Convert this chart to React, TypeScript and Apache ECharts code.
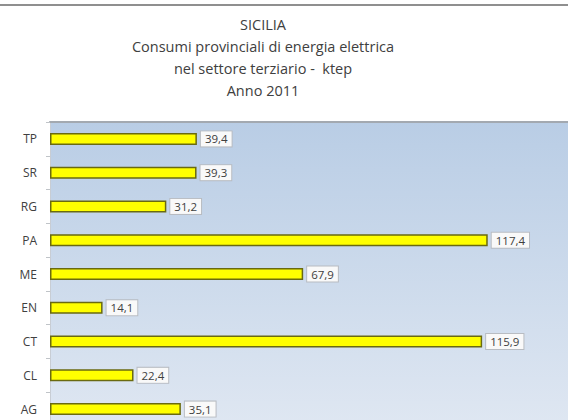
import React, { useEffect, useRef } from "react";
import * as echarts from "echarts";

const categories = ["AG", "CL", "CT", "EN", "ME", "PA", "RG", "SR", "TP"];
const values = [35.1, 22.4, 115.9, 14.1, 67.9, 117.4, 31.2, 39.3, 39.4];
const titleLines = [
  "SICILIA",
  "Consumi provinciali di energia elettrica",
  "nel settore terziario -  ktep",
  "Anno 2011",
];

const FONT = "Open Sans";

export default function App() {
  const ref = useRef<HTMLDivElement>(null);
  useEffect(() => {
    document.body.style.margin = "0";
    document.body.style.overflow = "hidden";
    const chart = echarts.init(ref.current!, null, { renderer: "svg" });
    chart.setOption({
      animation: false,
      backgroundColor: "#ffffff",
      graphic: [
        {
          type: "rect",
          shape: { x: 0, y: 4, width: 572, height: 2 },
          style: { fill: "#8f8f8f" },
          silent: true,
        },
        {
          type: "text",
          x: 263,
          y: 13,
          style: {
            text: titleLines.join("\n"),
            fontFamily: FONT,
            fontSize: 14.5,
            lineHeight: 22.2,
            fill: "#404040",
            align: "center",
            verticalAlign: "top",
          },
          silent: true,
        },
      ],
      grid: {
        left: 50,
        right: 0,
        top: 122,
        bottom: 0,
        show: true,
        borderWidth: 0,
        backgroundColor: new echarts.graphic.LinearGradient(0, 0, 0, 1, [
          { offset: 0, color: "#b9cde5" },
          { offset: 1, color: "#dfe7f2" },
        ]),
      },
      xAxis: {
        type: "value",
        min: 0,
        max: 140,
        position: "top",
        axisLine: { show: true, lineStyle: { color: "#a3a9b0", width: 2 } },
        axisTick: { show: false },
        axisLabel: { show: false },
        splitLine: { show: false },
      },
      yAxis: {
        type: "category",
        data: categories,
        axisLine: { show: true, lineStyle: { color: "#c8cdd4", width: 1 } },
        axisTick: { show: true, length: 4, lineStyle: { color: "#c0c4c8" } },
        axisLabel: {
          fontFamily: FONT,
          fontSize: 12,
          color: "#404040",
          margin: 13,
        },
      },
      series: [
        {
          type: "bar",
          data: values,
          barWidth: 12,
          itemStyle: {
            color: "#ffff00",
            borderColor: "#6a6a10",
            borderWidth: 1.5,
          },
          label: {
            show: true,
            position: "right",
            distance: 4,
            fontFamily: FONT,
            fontSize: 11.5,
            color: "#404040",
            backgroundColor: "#f9f9f9",
            borderColor: "#b8bcc2",
            borderWidth: 1,
            padding: [2, 4, 1, 4],
            formatter: (p: any) => p.value.toFixed(1).replace(".", ","),
          },
        },
      ],
    });
    return () => chart.dispose();
  }, []);
  return (
    <div
      ref={ref}
      style={{ position: "absolute", left: 0, top: 0, width: 572, height: 426 }}
    />
  );
}
